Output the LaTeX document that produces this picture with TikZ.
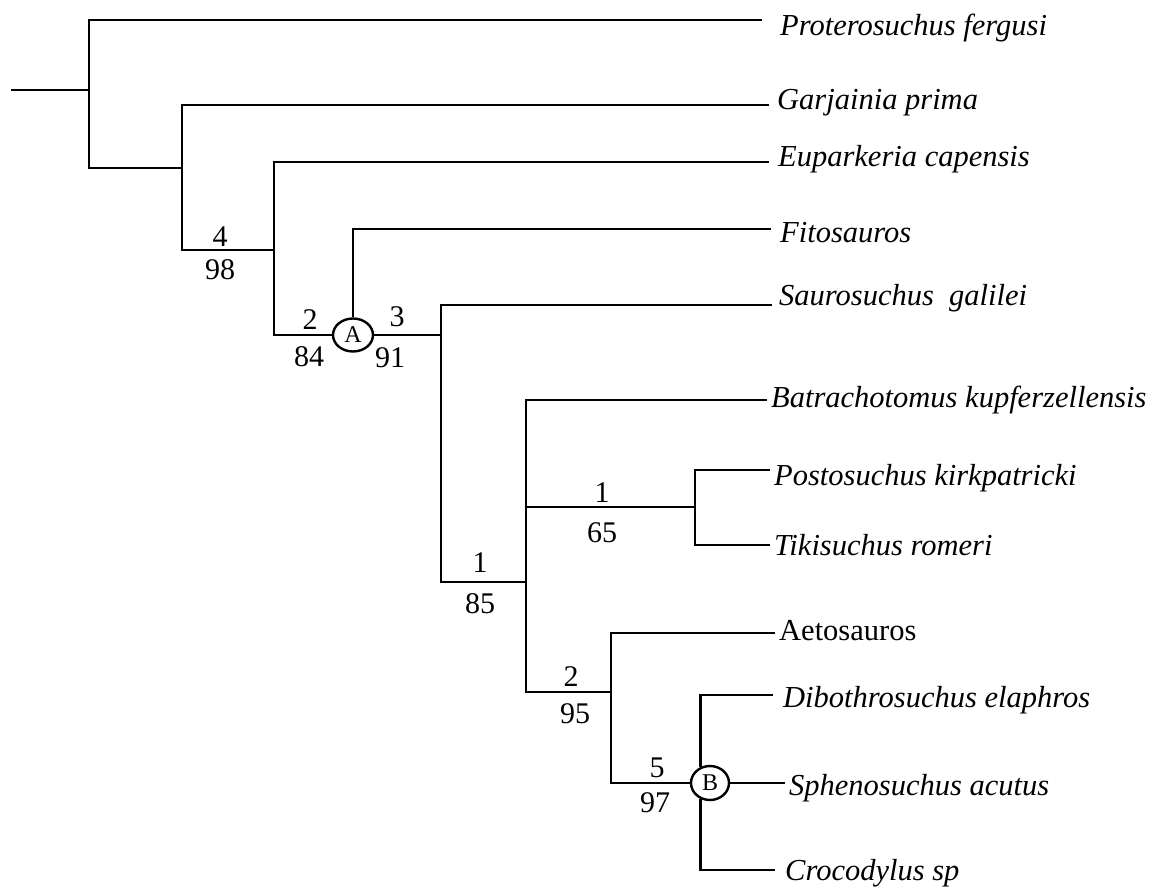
\documentclass[tikz,border=0pt]{standalone}
\usepackage{fontspec}
\setmainfont{Liberation Serif}
\usetikzlibrary{shapes.geometric}
\begin{document}
\begin{tikzpicture}[x=1pt,y=-1pt,
  branch/.style={line width=2.6pt,line join=miter},
  taxon/.style={anchor=base west,inner sep=0pt,font=\fontsize{30.5}{35}\selectfont\itshape},
  taxonup/.style={taxon,font=\fontsize{30.5}{35}\selectfont},
  support/.style={anchor=base,inner sep=0pt,font=\fontsize{30}{34}\selectfont},
  clade/.style={draw,ellipse,line width=2.4pt,inner sep=0pt,font=\fontsize{24}{28}\selectfont}]
\useasboundingbox (0,0) rectangle (1152,888);

% internal nodes
\coordinate (root) at (11,90);
\coordinate (n1) at (89,90);
\coordinate (n2) at (182,168);
\coordinate (n3) at (274,250);
\node[clade,minimum width=40pt,minimum height=33pt] (A) at (353,335) {A};
\coordinate (n5) at (441,335);
\coordinate (n6) at (526,582);
\coordinate (n7) at (695,507);
\coordinate (n8) at (611,692);
\node[clade,minimum width=38pt,minimum height=34pt] (B) at (710,783) {B};

% branch tips
\coordinate (eP) at (762,20);
\coordinate (eG) at (769,105);
\coordinate (eE) at (769,162);
\coordinate (eF) at (771,229);
\coordinate (eS) at (772,305);
\coordinate (eB) at (767,400);
\coordinate (ePo) at (770,470);
\coordinate (eT) at (770,545);
\coordinate (eAe) at (775,633);
\coordinate (eD) at (773,695);
\coordinate (eSp) at (785,783);
\coordinate (eC) at (775,870);

% taxa
\node[taxon] (tP) at (780,36) {Proterosuchus fergusi};
\node[taxon] (tG) at (777,110) {Garjainia prima};
\node[taxon] (tE) at (778,167) {Euparkeria capensis};
\node[taxon] (tF) at (780,242) {Fitosauros};
\node[taxon] (tS) at (779,305) {Saurosuchus\ \ galilei};
\node[taxon] (tB) at (771,407) {Batrachotomus kupferzellensis};
\node[taxon] (tPo) at (774,485) {Postosuchus kirkpatricki};
\node[taxon] (tT) at (774,555) {Tikisuchus romeri};
\node[taxonup] (tAe) at (779,640) {Aetosauros};
\node[taxon] (tD) at (783,707) {Dibothrosuchus elaphros};
\node[taxon] (tSp) at (789,795) {Sphenosuchus acutus};
\node[taxon] (tC) at (785,880) {Crocodylus sp};

% branches
\draw[branch] (root) -- (n1);
\draw[branch] (n1) |- (eP);
\draw[branch] (n1) |- (n2);
\draw[branch] (n2) |- (eG);
\draw[branch] (n2) |- (n3);
\draw[branch] (n3) |- (eE);
\draw[branch] (n3) |- (A.west);
\draw[branch] (A.north) |- (eF);
\draw[branch] (A.east) -- (n5);
\draw[branch] (n5) |- (eS);
\draw[branch] (n5) |- (n6);
\draw[branch] (n6) |- (eB);
\draw[branch] (n6) |- (n7);
\draw[branch] (n6) |- (n8);
\draw[branch] (n7) |- (ePo);
\draw[branch] (n7) |- (eT);
\draw[branch] (n8) |- (eAe);
\draw[branch] (n8) |- (B.west);
\draw[branch] (B.120) |- (eD);
\draw[branch] (B.east) -- (eSp);
\draw[branch] (B.240) |- (eC);

% support values (above / below branch)
\node[support] (s4) at (220,246) {4};
\node[support] (s98) at (220,279) {98};
\node[support] (s2a) at (310,329) {2};
\node[support] (s84) at (309,366) {84};
\node[support] (s3) at (397,326) {3};
\node[support] (s91) at (390,367) {91};
\node[support] (s1a) at (602,502) {1};
\node[support] (s65) at (602,542) {65};
\node[support] (s1b) at (480,572) {1};
\node[support] (s85) at (480,613) {85};
\node[support] (s2b) at (571,686) {2};
\node[support] (s95) at (575,723) {95};
\node[support] (s5) at (657,777) {5};
\node[support] (s97) at (655,812) {97};
\end{tikzpicture}
\end{document}
